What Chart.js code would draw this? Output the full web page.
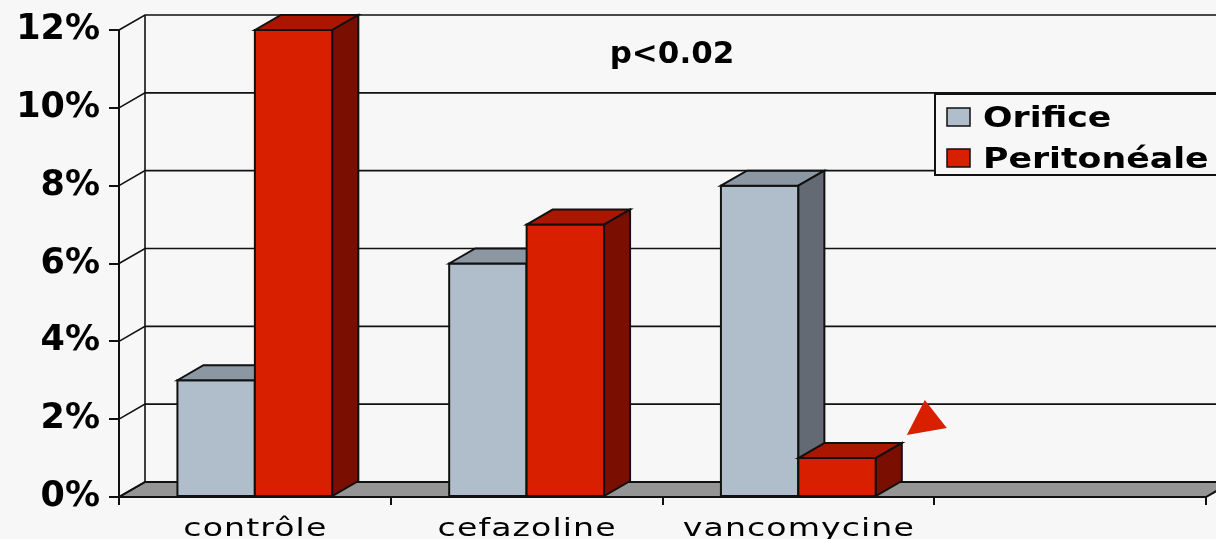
<!DOCTYPE html>
<html>
<head>
<meta charset="utf-8">
<title>Infections : orifice et péritonéale</title>
<script src="https://cdn.jsdelivr.net/npm/chart.js@4/dist/chart.umd.min.js"></script>
<style>
  html, body { margin: 0; padding: 0; background: #f7f7f7; }
  canvas { display: block; }
</style>
</head>
<body>
<canvas id="chart" width="1216" height="539"></canvas>
<script>
// Categories (last slot is an empty group on the axis)
const categories = ['contrôle', 'cefazoline', 'vancomycine', ''];
// Infection rates in percent
const orifice = [3, 6, 8, null];
const peritoneale = [12, 7, 1, null];
const seriesNames = ['Orifice', 'Peritonéale'];
const yTickLabels = ['0%', '2%', '4%', '6%', '8%', '10%', '12%'];
const pValueText = 'p<0.02';

// Face colours: front, top, side
const palette = [
  { front: '#b0bdca', top: '#8b97a3', side: '#636a73' },
  { front: '#d82000', top: '#aa1600', side: '#7a0e00' }
];

const DEPTH_X = 26, DEPTH_Y = 15;
const INK = '#111111';
const BG = '#f7f7f7';
const FONT = "'DejaVu Sans', Verdana, sans-serif";

function poly(ctx, pts, fill) {
  ctx.beginPath();
  ctx.moveTo(pts[0][0], pts[0][1]);
  for (let i = 1; i < pts.length; i++) ctx.lineTo(pts[i][0], pts[i][1]);
  ctx.closePath();
  if (fill) { ctx.fillStyle = fill; ctx.fill(); }
  ctx.stroke();
}

// Text drawn with a horizontal stretch (wide slide lettering)
function wideText(ctx, text, x, y, sx, align) {
  ctx.save();
  ctx.translate(x, y);
  ctx.scale(sx, 1);
  ctx.textAlign = align;
  ctx.fillText(text, 0, 0);
  ctx.restore();
}

// Back wall, gridlines and floor of the 3D frame
const framePlugin = {
  id: 'frame3d',
  beforeDatasetsDraw(chart) {
    const { ctx, chartArea: a, scales: { y } } = chart;
    const W = chart.width;
    ctx.save();
    ctx.strokeStyle = INK;
    ctx.lineWidth = 2;
    // floor
    const y0 = y.getPixelForValue(0);
    poly(ctx, [[a.left, y0], [a.right, y0], [a.right + DEPTH_X, y0 - DEPTH_Y], [a.left + DEPTH_X, y0 - DEPTH_Y]], '#959595');
    // wall gridlines with their diagonal links to the front axis
    ctx.lineWidth = 1.6;
    y.ticks.forEach(t => {
      const yf = y.getPixelForValue(t.value);
      ctx.beginPath();
      ctx.moveTo(a.left, yf);
      ctx.lineTo(a.left + DEPTH_X, yf - DEPTH_Y);
      ctx.lineTo(W + 5, yf - DEPTH_Y);
      ctx.stroke();
    });
    // back-left corner of the wall
    ctx.beginPath();
    ctx.moveTo(a.left + DEPTH_X, y.getPixelForValue(y.max) - DEPTH_Y);
    ctx.lineTo(a.left + DEPTH_X, y0 - DEPTH_Y);
    ctx.stroke();
    // front edge of the floor
    ctx.lineWidth = 2;
    ctx.beginPath();
    ctx.moveTo(a.left, y0);
    ctx.lineTo(a.right, y0);
    ctx.stroke();
    ctx.restore();
  },
  // Full 3D boxes, drawn group by group so neighbours overlap correctly
  afterDatasetsDraw(chart) {
    const { ctx } = chart;
    ctx.save();
    ctx.strokeStyle = INK;
    ctx.lineWidth = 2;
    ctx.lineJoin = 'miter';
    categories.forEach((_, i) => {
      chart.data.datasets.forEach((ds, d) => {
        const el = chart.getDatasetMeta(d).data[i];
        if (!el || ds.data[i] == null) return;
        const { x, y, base, width } = el.getProps(['x', 'y', 'base', 'width'], true);
        const l = x - width / 2, r = x + width / 2;
        const c = palette[d];
        poly(ctx, [[l, y], [r, y], [r, base], [l, base]], c.front);
        poly(ctx, [[l, y], [l + DEPTH_X, y - DEPTH_Y], [r + DEPTH_X, y - DEPTH_Y], [r, y]], c.top);
        poly(ctx, [[r, y], [r + DEPTH_X, y - DEPTH_Y], [r + DEPTH_X, base - DEPTH_Y], [r, base]], c.side);
      });
    });
    ctx.restore();
  },
  afterDraw(chart) {
    const { ctx, scales: { x } } = chart;
    ctx.save();
    ctx.fillStyle = '#000';
    ctx.textBaseline = 'alphabetic';
    // category labels
    ctx.font = '24px ' + FONT;
    ctx.letterSpacing = '0.8px';
    categories.forEach((label, i) => {
      if (!label) return;
      wideText(ctx, label, x.getPixelForTick(i) + 0.5, 536, 1.38, 'center');
    });
    // significance note
    ctx.letterSpacing = '0px';
    ctx.font = 'bold 31px ' + FONT;
    wideText(ctx, pValueText, 672, 63, 1.0, 'center');

    // arrow head pointing at the vancomycine peritoneal bar
    const el = chart.getDatasetMeta(1).data[2];
    const bx = el.x + el.width / 2, by = el.y;
    ctx.fillStyle = palette[1].front;
    ctx.beginPath();
    ctx.moveTo(bx + 31, by - 23);
    ctx.lineTo(bx + 49, by - 58);
    ctx.lineTo(bx + 71, by - 30);
    ctx.closePath();
    ctx.fill();

    // legend
    ctx.strokeStyle = INK;
    ctx.lineWidth = 2;
    ctx.fillStyle = BG;
    ctx.fillRect(935, 94, 300, 81);
    ctx.strokeRect(935, 94, 300, 81);
    ctx.font = 'bold 28px ' + FONT;
    seriesNames.forEach((name, d) => {
      const top = 108 + d * 41;
      ctx.fillStyle = palette[d].front;
      ctx.fillRect(947, top, 23, 18);
      ctx.lineWidth = 1.5;
      ctx.strokeRect(947, top, 23, 18);
      ctx.fillStyle = '#000';
      wideText(ctx, name, 983, top + 19, 1.24, 'left');
    });
    ctx.restore();
  }
};

new Chart(document.getElementById('chart'), {
  type: 'bar',
  data: {
    labels: categories,
    datasets: [
      { label: seriesNames[0], data: orifice, backgroundColor: palette[0].front, borderColor: INK, borderWidth: 2 },
      { label: seriesNames[1], data: peritoneale, backgroundColor: palette[1].front, borderColor: INK, borderWidth: 2 }
    ]
  },
  options: {
    responsive: false,
    animation: false,
    layout: { padding: { top: 28, right: 10, bottom: 0, left: 0 } },
    datasets: { bar: { categoryPercentage: 0.57, barPercentage: 1 } },
    plugins: { legend: { display: false }, tooltip: { enabled: false } },
    scales: {
      x: {
        offset: true,
        afterFit(s) { s.height = 42; },
        grid: { offset: true, drawOnChartArea: false, drawTicks: true, tickLength: 8, color: INK, lineWidth: 2 },
        border: { display: true, color: INK, width: 2 },
        ticks: { display: false }
      },
      y: {
        min: 0, max: 12,
        afterFit(s) { s.width = 119; },
        grid: { drawOnChartArea: false, drawTicks: true, tickLength: 10, color: INK, lineWidth: 2 },
        border: { display: true, color: INK, width: 2 },
        ticks: {
          stepSize: 2,
          padding: 9,
          color: '#000',
          font: { family: FONT, size: 35, weight: 'bold' },
          callback: (v, i) => yTickLabels[i]
        }
      }
    }
  },
  plugins: [framePlugin]
});
</script>
</body>
</html>
